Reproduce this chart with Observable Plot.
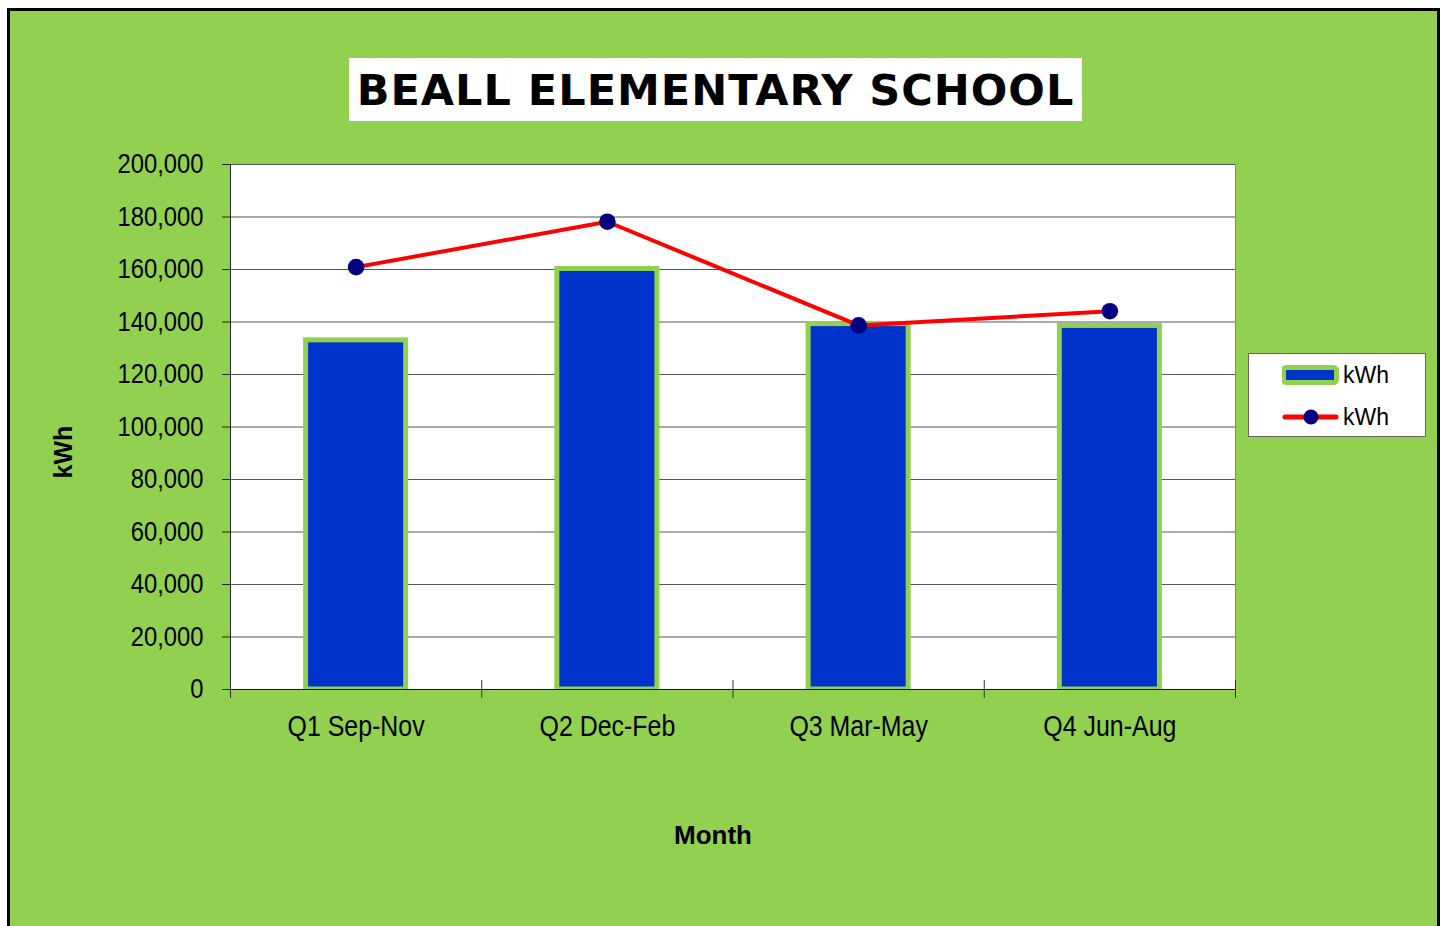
<!DOCTYPE html>
<html>
<head>
<meta charset="utf-8">
<script src="https://cdn.jsdelivr.net/npm/d3@7"></script>
<script src="https://cdn.jsdelivr.net/npm/@observablehq/plot@0.6"></script>
<style>
  html, body { margin: 0; padding: 0; background: #ffffff; overflow: hidden; }
  #wrap { position: relative; width: 1444px; height: 926px; }
  #frame { position: absolute; left: 7px; top: 8px; width: 1433px; height: 940px; box-sizing: border-box;
           border: 3.5px solid #000; background: #92D050; }
  #chart { position: absolute; left: 0; top: 0; }
  #title { position: absolute; left: 349px; top: 58px; width: 733px; height: 63px; background: #fff;
           font-family: "DejaVu Sans", sans-serif; font-weight: bold; font-size: 43px; letter-spacing: 1px; color: #000;
           display: flex; align-items: center; justify-content: center; white-space: nowrap; }
  #ylab { position: absolute; left: 63px; top: 452px; transform: translate(-50%, -50%) rotate(-90deg);
          font-family: "Liberation Sans", Arial, sans-serif; font-weight: bold; font-size: 25px; white-space: nowrap; }
  #xlab { position: absolute; left: 713px; top: 835px; transform: translate(-50%, -50%);
          font-family: "Liberation Sans", Arial, sans-serif; font-weight: bold; font-size: 26px; white-space: nowrap; }
  #legend { position: absolute; left: 1248px; top: 353px; width: 178px; height: 84px; box-sizing: border-box;
            background: #fff; border: 1px solid #666; font-family: "Liberation Sans", Arial, sans-serif; font-size: 23px; }
  .item { position: absolute; left: 33px; height: 24px; display: flex; align-items: center; }
  .item svg { display: block; }
  .item span { margin-left: 4px; line-height: 1; }
</style>
</head>
<body>
<div id="wrap">
  <div id="frame"></div>
  <div id="chart"></div>
  <div id="title"></div>
  <div id="ylab"></div>
  <div id="xlab"></div>
  <div id="legend"></div>
</div>
<script>
// ---- Data ----
const titleText = "BEALL ELEMENTARY SCHOOL";
const categories = ["Q1 Sep-Nov", "Q2 Dec-Feb", "Q3 Mar-May", "Q4 Jun-Aug"];
const barValues = [133000, 160200, 139200, 138500];
const lineValues = [160900, 178200, 138700, 144100];
const yTicks = [0, 20000, 40000, 60000, 80000, 100000, 120000, 140000, 160000, 180000, 200000];
const seriesNames = ["kWh", "kWh"];
const yTitle = "kWh";
const xTitle = "Month";

const GREEN = "#92D050", BLUE = "#0033CC", RED = "#FF0000", NAVY = "#000080";
const tickFont = '"Liberation Sans", Arial, sans-serif';

const data = categories.map((c, i) => ({i, c, bar: barValues[i], line: lineValues[i]}));
const boundaries = d3.range(categories.length + 1);
const centers = categories.map((c, i) => i + 0.5);

const chart = Plot.plot({
  width: 1444,
  height: 926,
  marginLeft: 230,
  marginRight: 209,
  marginTop: 164,
  marginBottom: 237,
  style: {background: "transparent", fontFamily: tickFont, color: "#000", overflow: "visible"},
  x: {domain: [0, categories.length], axis: null},
  y: {domain: [0, 200000], axis: null},
  marks: [
    Plot.frame({fill: "#fff", stroke: "#888"}),
    Plot.gridY(yTicks, {stroke: "#555", strokeOpacity: 1}),
    Plot.ruleX([0], {stroke: "#222"}),
    Plot.rectY(data, {x1: d => d.i, x2: d => d.i + 1, y: "bar", insetLeft: 75.6, insetRight: 75.6,
                      fill: BLUE, stroke: GREEN, strokeWidth: 5}),
    Plot.ruleY([0], {stroke: "#111"}),
    Plot.ruleX(boundaries, {y1: 0, y2: 0, insetTop: -9, insetBottom: -9, stroke: "#333"}),
    Plot.axisY(yTicks, {tickSize: 8, tickPadding: 19, tickFormat: d3.format(","), fontSize: 28, label: null, stroke: "#222", className: "ynum"}),
    Plot.axisX(centers, {tickSize: 0, tickPadding: 26, tickFormat: d => categories[Math.floor(d)], fontSize: 29, label: null, className: "xcat"}),
    Plot.line(data, {x: d => d.i + 0.5, y: "line", stroke: RED, strokeWidth: 4}),
    Plot.dot(data, {x: d => d.i + 0.5, y: "line", r: 8.3, fill: NAVY, stroke: "none"})
  ]
});
// Narrow the axis labels (Arial Narrow look) by horizontally scaling each label about its anchor.
chart.querySelectorAll("text").forEach(t => {
  const isX = t.closest(".xcat") !== null;
  const tr = t.getAttribute("transform") || "";
  t.setAttribute("transform", tr + (isX ? " scale(0.86,1)" : " scale(0.85,1)"));
});
document.getElementById("chart").appendChild(chart);

document.getElementById("title").textContent = titleText;
document.getElementById("ylab").textContent = yTitle;
document.getElementById("xlab").textContent = xTitle;

// Legend
const legend = document.getElementById("legend");
const item1 = document.createElement("div");
item1.className = "item"; item1.style.top = "9px";
item1.innerHTML = `<svg width="57" height="20"><rect x="1.5" y="2.5" width="53" height="15" rx="3" fill="${BLUE}" stroke="${GREEN}" stroke-width="5"/></svg><span>${seriesNames[0]}</span>`;
legend.appendChild(item1);
const item2 = document.createElement("div");
item2.className = "item"; item2.style.top = "51px";
item2.innerHTML = `<svg width="57" height="20"><line x1="3" y1="10" x2="54" y2="10" stroke="${RED}" stroke-width="5" stroke-linecap="round"/><circle cx="29" cy="10" r="7.5" fill="${NAVY}"/></svg><span>${seriesNames[1]}</span>`;
legend.appendChild(item2);
</script>
</body>
</html>
